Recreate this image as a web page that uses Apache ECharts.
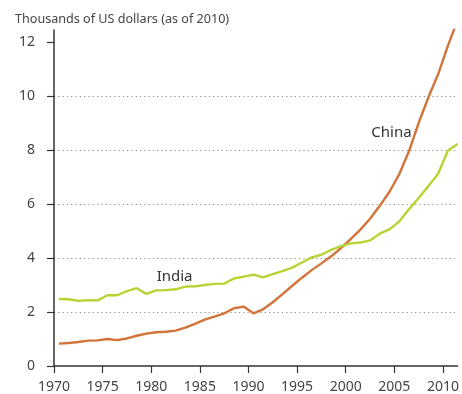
<!DOCTYPE html>
<html>
<head>
<meta charset="utf-8">
<script src="https://cdn.jsdelivr.net/npm/echarts@6/dist/echarts.min.js"></script>
<style>
  html, body { margin: 0; padding: 0; background: #fff; }
  #chart { width: 462px; height: 394px; }
</style>
</head>
<body>
<div id="chart"></div>
<script>
// GDP per head, thousands of US dollars (2010 prices), annual values
const years = [1970, 1971, 1972, 1973, 1974, 1975, 1976, 1977, 1978, 1979,
               1980, 1981, 1982, 1983, 1984, 1985, 1986, 1987, 1988, 1989,
               1990, 1991, 1992, 1993, 1994, 1995, 1996, 1997, 1998, 1999,
               2000, 2001, 2002, 2003, 2004, 2005, 2006, 2007, 2008, 2009,
               2010, 2011];

const china = [0.83, 0.85, 0.89, 0.94, 0.95, 1.00, 0.96, 1.02, 1.12, 1.20,
               1.25, 1.27, 1.31, 1.42, 1.56, 1.72, 1.83, 1.95, 2.14, 2.20,
               1.95, 2.10, 2.36, 2.66, 2.97, 3.27, 3.55, 3.80, 4.06, 4.36,
               4.70, 5.05, 5.45, 5.93, 6.45, 7.10, 7.95, 9.00, 9.95, 10.80,
               11.85, 12.80];

const india = [2.48, 2.47, 2.41, 2.44, 2.43, 2.62, 2.62, 2.77, 2.88, 2.67,
               2.80, 2.81, 2.84, 2.94, 2.95, 3.00, 3.04, 3.05, 3.24, 3.31,
               3.38, 3.28, 3.40, 3.51, 3.64, 3.83, 4.02, 4.12, 4.30, 4.44,
               4.54, 4.57, 4.65, 4.90, 5.06, 5.35, 5.80, 6.22, 6.66, 7.12,
               7.97, 8.22];

const yTicks = [0, 2, 4, 6, 8, 10, 12];
const xTicks = [1970, 1975, 1980, 1985, 1990, 1995, 2000, 2005, 2010];

// where the series names sit, in axis units
const chinaLabelAt = [2004.7, 8.64];
const indiaLabelAt = [1982.4, 3.31];

const textFont = '"Noto Sans", "Open Sans", sans-serif';

// annual figures are drawn at mid-year
const toPoints = vals => vals.map((v, i) => [years[i] + 0.5, v]);

function nameLabel(text, at) {
  return {
    symbol: 'circle',
    symbolSize: 0,
    silent: true,
    data: [{
      coord: at,
      label: {
        show: true,
        position: 'inside',
        formatter: text,
        color: '#333',
        fontSize: 15,
        fontFamily: textFont
      }
    }]
  };
}

const chart = echarts.init(document.getElementById('chart'), null, { renderer: 'canvas' });

chart.setOption({
  animation: false,
  backgroundColor: '#fff',
  title: {
    text: 'Thousands of US dollars (as of 2010)',
    left: 10,
    top: 8,
    textStyle: { fontSize: 12.6, fontWeight: 'normal', color: '#444', fontFamily: textFont }
  },
  grid: { left: 54, right: 0, top: 30, bottom: 28, containLabel: false },
  xAxis: {
    type: 'value',
    min: 1970,
    max: 2011.5,
    interval: 5,
    axisLine: { show: true, onZero: false, lineStyle: { color: '#333', width: 1.5 } },
    axisTick: { show: true, length: 7, customValues: xTicks, lineStyle: { color: '#333', width: 1.2 } },
    axisLabel: {
      customValues: xTicks,
      formatter: v => String(v),
      color: '#444',
      fontSize: 14,
      fontFamily: textFont,
      margin: 14
    },
    splitLine: { show: false }
  },
  yAxis: {
    type: 'value',
    min: 0,
    max: 12.44,
    interval: 2,
    axisLine: { show: true, lineStyle: { color: '#333', width: 1.5 } },
    axisTick: { show: true, length: 7, customValues: yTicks, lineStyle: { color: '#333', width: 1.2 } },
    axisLabel: {
      customValues: yTicks,
      formatter: v => String(v),
      color: '#444',
      fontSize: 14,
      fontFamily: textFont,
      margin: 19
    },
    splitLine: {
      show: true,
      showMinLine: false,
      showMaxLine: false,
      lineStyle: { color: '#8a8a8a', width: 1.2, type: [1.2, 3.1] }
    }
  },
  series: [
    {
      name: 'China',
      type: 'line',
      data: toPoints(china),
      symbol: 'none',
      clip: true,
      lineStyle: { color: '#d2743a', width: 2.4 },
      itemStyle: { color: '#d2743a' },
      markPoint: nameLabel('China', chinaLabelAt)
    },
    {
      name: 'India',
      type: 'line',
      data: toPoints(india),
      symbol: 'none',
      clip: true,
      lineStyle: { color: '#b6d433', width: 2.4 },
      itemStyle: { color: '#b6d433' },
      markPoint: nameLabel('India', indiaLabelAt)
    }
  ]
});
</script>
</body>
</html>
